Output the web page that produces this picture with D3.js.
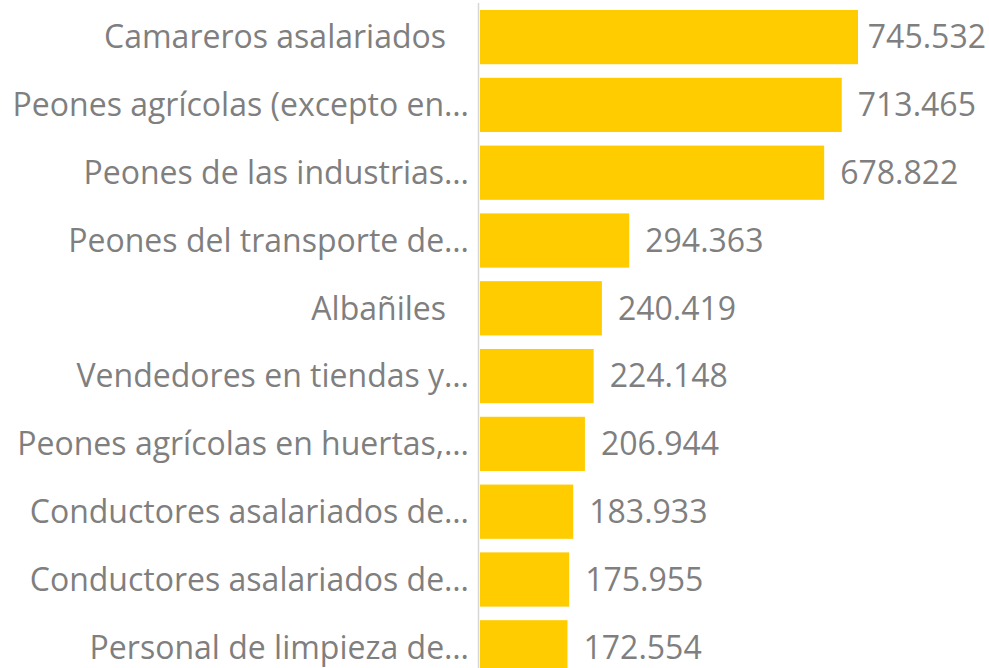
<!DOCTYPE html>
<html>
<head>
<meta charset="utf-8">
<script src="https://d3js.org/d3.v7.min.js"></script>
<style>
  body { margin: 0; background: #fff; }
  text { font-family: "Open Sans", sans-serif; fill: #7f7f7f; }
</style>
</head>
<body>
<script>
var labels = ["Camareros asalariados", "Peones agrícolas (excepto en…", "Peones de las industrias…",
  "Peones del transporte de…", "Albañiles", "Vendedores en tiendas y…", "Peones agrícolas en huertas,…",
  "Conductores asalariados de…", "Conductores asalariados de…", "Personal de limpieza de…"];
var values = [745532, 713465, 678822, 294363, 240419, 224148, 206944, 183933, 175955, 172554];

var width = 989, height = 668;
var fontSize = 32;

var es = d3.formatLocale({decimal: ",", thousands: ".", grouping: [3], currency: ["", " €"]});
var fmt = es.format(",d");

var svg = d3.select("body").append("svg")
  .attr("width", width)
  .attr("height", height);

var x = d3.scaleLinear()
  .domain([0, d3.max(values)])
  .range([480, 858]);

var y = d3.scaleBand()
  .domain(d3.range(labels.length))
  .range([3.2, 681.2])
  .paddingInner(0.2)
  .paddingOuter(0.1);

// vertical base line
svg.append("line")
  .attr("x1", 478.5).attr("x2", 478.5)
  .attr("y1", 3).attr("y2", height)
  .attr("stroke", "#d6d6d6")
  .attr("stroke-width", 1.5);

svg.selectAll("rect.bar")
  .data(values)
  .enter().append("rect")
  .attr("class", "bar")
  .attr("x", x(0))
  .attr("y", function(d, i) { return y(i); })
  .attr("width", function(d) { return x(d) - x(0); })
  .attr("height", y.bandwidth())
  .attr("fill", "#ffcc00");

// category labels (short ones keep some room on the right)
svg.selectAll("text.cat")
  .data(labels)
  .enter().append("text")
  .attr("class", "cat")
  .attr("x", function(d) { return d.slice(-1) === "…" ? 469 : 446; })
  .attr("y", function(d, i) { return y(i) + y.bandwidth() / 2; })
  .attr("dy", "0.35em")
  .attr("text-anchor", "end")
  .style("font-size", fontSize + "px")
  .text(function(d) { return d; });

// value labels, kept inside the picture
svg.selectAll("text.val")
  .data(values)
  .enter().append("text")
  .attr("class", "val")
  .attr("y", function(d, i) { return y(i) + y.bandwidth() / 2; })
  .attr("dy", "0.35em")
  .style("font-size", fontSize + "px")
  .text(function(d) { return fmt(d); })
  .attr("x", function(d) {
    var w = this.getComputedTextLength();
    return Math.min(x(d) + 16, width - 3 - w);
  });
</script>
</body>
</html>
